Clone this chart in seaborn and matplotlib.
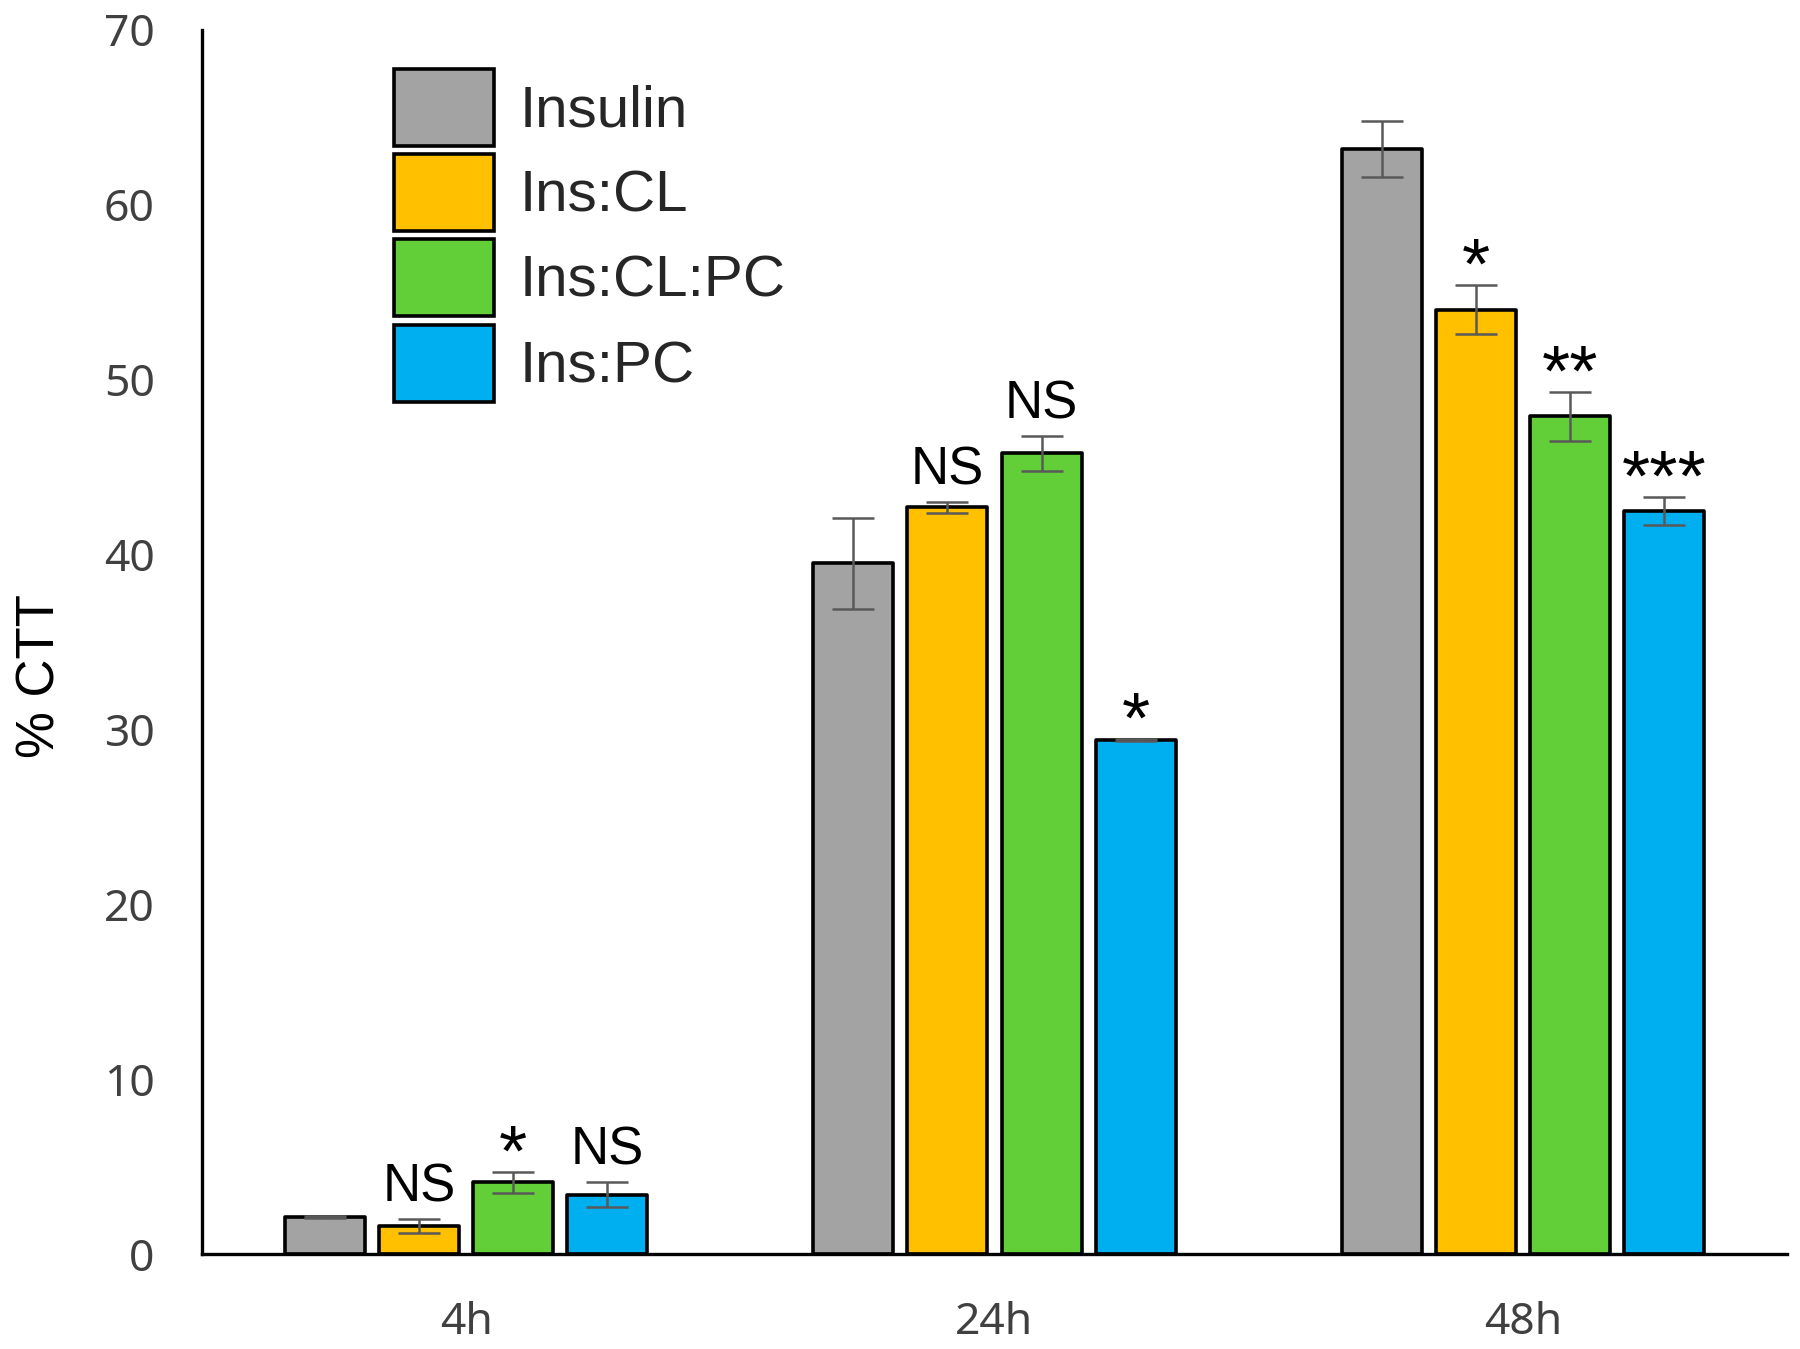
import numpy as np
import pandas as pd
import seaborn as sns
import matplotlib.pyplot as plt
from matplotlib.patches import Patch

sns.set_theme(style="white")
plt.rcParams['font.family'] = ['Liberation Sans', 'DejaVu Sans']

# values (% CTT)
times = ["4h", "24h", "48h"]
groups = ["Insulin", "Ins:CL", "Ins:CL:PC", "Ins:PC"]
colors = ["#a3a3a3", "#ffc000", "#63cf38", "#00aff0"]

insulin = [2.1, 39.5, 63.2]
ins_cl = [1.6, 42.7, 54.0]
ins_cl_pc = [4.1, 45.8, 47.9]
ins_pc = [3.4, 29.4, 42.5]

insulin_err = [0.05, 2.6, 1.6]
ins_cl_err = [0.4, 0.3, 1.4]
ins_cl_pc_err = [0.6, 1.0, 1.4]
ins_pc_err = [0.7, 0.05, 0.8]

insulin_sig = ["", "", ""]
ins_cl_sig = ["NS", "NS", "*"]
ins_cl_pc_sig = ["*", "NS", "**"]
ins_pc_sig = ["NS", "*", "***"]

values = [insulin, ins_cl, ins_cl_pc, ins_pc]
errors = [insulin_err, ins_cl_err, ins_cl_pc_err, ins_pc_err]
signif = [insulin_sig, ins_cl_sig, ins_cl_pc_sig, ins_pc_sig]

df = pd.DataFrame({
    "time": times * len(groups),
    "group": np.repeat(groups, len(times)),
    "ctt": np.concatenate(values),
})

fig = plt.figure(figsize=(9, 6.745), dpi=200)
ax = fig.add_axes([0.1122, 0.0704, 0.8806, 0.9074])

sns.barplot(data=df, x="time", y="ctt", hue="group", order=times,
            hue_order=groups, palette=colors, saturation=1,
            width=0.713, gap=0.15, edgecolor="black", linewidth=1.3,
            errorbar=None, legend=False, ax=ax)

bar_conts = list(ax.containers)
for i, cont in enumerate(bar_conts):
    for j, bar in enumerate(cont.patches):
        bar.set_joinstyle("round")
        x = bar.get_x() + bar.get_width() / 2
        h = bar.get_height()
        e = errors[i][j]
        ax.errorbar(x, h, yerr=e, fmt="none", ecolor="#595959",
                    elinewidth=0.9, capsize=7.5, capthick=0.9)
        lab = signif[i][j]
        if lab == "NS":
            ax.text(x, h + e + 1.0, lab, ha="center", va="baseline",
                    fontsize=19, color="black")
        elif lab:
            # asterisks are drawn larger in the original
            ax.text(x, h + e - 0.2, lab, ha="center", va="baseline",
                    fontsize=26, color="black")

ax.set_ylim(0, 70)
ax.set_yticks(range(0, 71, 10))
ax.set_xlim(-0.5, 2.5)
ax.set_xlabel("")
ax.set_ylabel("% CTT", fontsize=19, color="black")
ax.yaxis.set_label_coords(-0.086, 0.472)

ax.tick_params(axis="both", length=0, labelsize=16, labelcolor="#404040")
ax.tick_params(axis="y", pad=17)
ax.tick_params(axis="x", pad=17)
for t in ax.get_xticklabels() + ax.get_yticklabels():
    t.set_family(["Noto Sans", "DejaVu Sans"])

for s in ["top", "right"]:
    ax.spines[s].set_visible(False)
for s in ["left", "bottom"]:
    ax.spines[s].set_color("black")
    ax.spines[s].set_linewidth(1.2)

handles = [Patch(facecolor=c, edgecolor="black", linewidth=1.3, joinstyle="round")
           for c in colors]
ax.legend(handles, groups, loc="upper left", bbox_to_anchor=(0.121, 0.968),
          frameon=False, fontsize=21, handlelength=1.71, handleheight=1.654,
          labelspacing=0.14, handletextpad=0.45, borderpad=0, borderaxespad=0)

fig.savefig("out.png", dpi=200)
